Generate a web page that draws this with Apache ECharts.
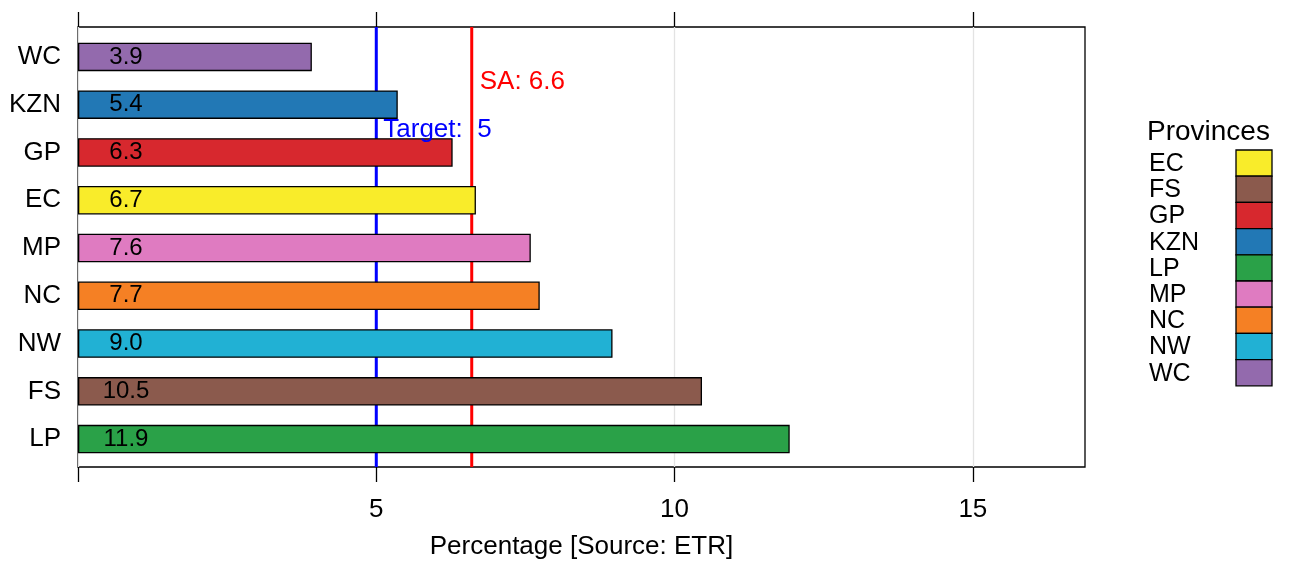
<!DOCTYPE html>
<html>
<head>
<meta charset="utf-8">
<script src="https://cdn.jsdelivr.net/npm/echarts@6/dist/echarts.min.js"></script>
<style>
html,body{margin:0;padding:0;background:#fff;}
#wrap{position:relative;width:1292px;height:579px;}
#baseLayer,#barLayer{position:absolute;left:0;top:0;width:1292px;height:579px;}
#baseLayer{z-index:1;}#barLayer{z-index:2;}
</style>
</head>
<body>
<div id="wrap"><div id="baseLayer"></div><div id="barLayer"></div></div>
<script>
// ---- data ----
const provinces = ['WC', 'KZN', 'GP', 'EC', 'MP', 'NC', 'NW', 'FS', 'LP'];
const values = [3.92, 5.36, 6.28, 6.67, 7.59, 7.74, 8.96, 10.46, 11.93];
const legendOrder = ['EC', 'FS', 'GP', 'KZN', 'LP', 'MP', 'NC', 'NW', 'WC'];
const xTicks = [0, 5, 10, 15];
const xTickLabels = [5, 10, 15];
const targetValue = 5;
const saValue = 6.6;
const xMin = 0, xMax = 16.88;
const legendTitle = 'Provinces';
const axisTitle = 'Percentage [Source: ETR]';

// ---- styles ----
const colorOf = {
  EC: '#F9EC2A', FS: '#8B5A4D', GP: '#D7282E', KZN: '#2278B5', LP: '#2AA148',
  MP: '#DF7BC1', NC: '#F58024', NW: '#21B1D4', WC: '#936AAD'
};
const FONT = "'Liberation Sans', Arial, Helvetica, sans-serif";

// ---- bottom layer: frame, axes, grid lines, reference lines ----
const baseChart = echarts.init(document.getElementById('baseLayer'), null, { renderer: 'canvas' });
function refLine(value, color) {
  return {
    type: 'line', silent: true, symbol: 'none', data: [[value, 0], [value, 1]],
    lineStyle: { color: color, width: 3 }, z: 1
  };
}
baseChart.setOption({
  animation: false,
  backgroundColor: '#fff',
  textStyle: { fontFamily: FONT },
  grid: { left: 78, right: 207, top: 27, bottom: 112, show: true, borderColor: '#000', borderWidth: 1.3 },
  xAxis: [
    {
      type: 'value', position: 'bottom', min: xMin, max: xMax, interval: 5,
      axisLine: { show: false },
      axisTick: { show: true, inside: false, length: 15, lineStyle: { color: '#000', width: 1.3 }, customValues: xTicks },
      axisLabel: { show: true, margin: 30, fontSize: 26, color: '#000', fontFamily: FONT, customValues: xTickLabels },
      splitLine: { show: true, lineStyle: { color: '#e3e3e3', width: 1.3 } },
      name: axisTitle, nameLocation: 'middle', nameGap: 80,
      nameTextStyle: { fontSize: 26, color: '#000', fontFamily: FONT, verticalAlign: 'middle' }
    },
    {
      type: 'value', position: 'top', min: xMin, max: xMax, interval: 5,
      axisLine: { show: false },
      axisTick: { show: true, inside: false, length: 15, lineStyle: { color: '#000', width: 1.3 }, customValues: xTicks },
      axisLabel: { show: false },
      splitLine: { show: false }
    }
  ],
  yAxis: { type: 'value', min: 0, max: 1, show: false },
  series: [refLine(targetValue, '#0000ff'), refLine(saValue, '#ff0000')]
});

// ---- top layer: bars, category labels, annotations, legend ----
const barChart = echarts.init(document.getElementById('barLayer'), null, { renderer: 'canvas' });
barChart.setOption({
  animation: false,
  backgroundColor: 'transparent',
  textStyle: { fontFamily: FONT },
  grid: { left: 78, right: 207, top: 33, bottom: 116, show: false },
  xAxis: { type: 'value', min: xMin, max: xMax, show: false },
  yAxis: {
    type: 'category', data: provinces, inverse: true,
    axisLine: { show: false }, axisTick: { show: false },
    axisLabel: { margin: 17, fontSize: 26, color: '#000', fontFamily: FONT },
    splitLine: { show: false }
  },
  series: [{
    type: 'bar', barWidth: 28.5, z: 5,
    emphasis: { disabled: true },
    data: values.map((v, i) => ({ value: v, itemStyle: { color: colorOf[provinces[i]], opacity: 1 } })),
    itemStyle: { borderColor: '#000', borderWidth: 1.3, opacity: 1 },
    label: {
      show: true, position: [48, '50%'], align: 'center', verticalAlign: 'middle',
      fontSize: 24, color: '#000', fontFamily: FONT,
      formatter: p => p.value.toFixed(1)
    }
  }]
});

const px = v => baseChart.convertToPixel({ xAxisIndex: 0 }, v);
const py = c => barChart.convertToPixel({ yAxisIndex: 0 }, c);
const ySA = (py(provinces[0]) + py(provinces[1])) / 2;
const yTarget = (py(provinces[1]) + py(provinces[2])) / 2;

const graphics = [
  { type: 'text', z: 10, x: px(saValue) + 8, y: ySA + 1.5,
    style: { text: 'SA: ' + saValue.toFixed(1), fill: '#ff0000', font: '26px ' + FONT, verticalAlign: 'middle' } },
  { type: 'text', z: 10, x: px(targetValue) + 7, y: yTarget + 1.5,
    style: { text: 'Target:  ' + targetValue, fill: '#0000ff', font: '26px ' + FONT, verticalAlign: 'middle' } },
  { type: 'text', z: 10, x: 1147, y: 132,
    style: { text: legendTitle, fill: '#000', font: '28px ' + FONT, verticalAlign: 'middle' } }
];
const legTop = 150, legH = 26.2;
legendOrder.forEach((p, i) => {
  graphics.push({ type: 'rect', z: 10, shape: { x: 1236, y: legTop + i * legH, width: 36, height: legH },
    style: { fill: colorOf[p], stroke: '#000', lineWidth: 1.3 } });
  graphics.push({ type: 'text', z: 10, x: 1149, y: legTop + i * legH + legH / 2 + 1,
    style: { text: p, fill: '#000', font: '25px ' + FONT, verticalAlign: 'middle' } });
});
barChart.setOption({ graphic: graphics });
</script>
</body>
</html>
